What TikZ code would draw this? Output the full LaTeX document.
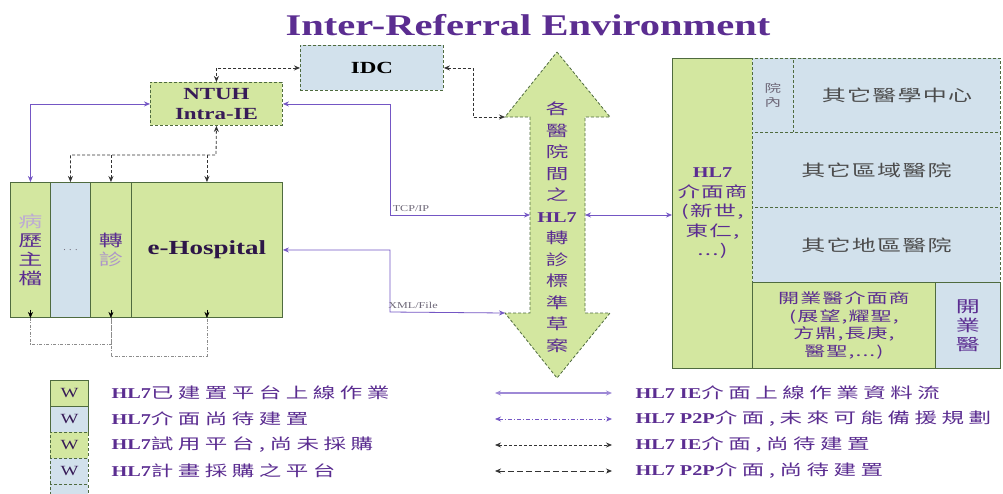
\documentclass[tikz,border=0pt]{standalone}
\usepackage{fontspec}
\setmainfont{Liberation Serif}
\newfontfamily\latinwide[FakeStretch=1.35]{Liberation Serif}
\newfontfamily\cjk[FakeStretch=1.5,LetterSpace=8]{Noto Sans CJK TC}
\newfontfamily\cjkleg[FakeStretch=1.5,LetterSpace=30]{Noto Sans CJK TC}
\usetikzlibrary{arrows.meta,positioning}

\definecolor{hlgreen}{HTML}{D3E7A0}
\definecolor{hlblue}{HTML}{D2E1EC}
\definecolor{boxline}{HTML}{4F6B3F}
\definecolor{hlpurple}{HTML}{5B2D91}
\definecolor{linkpurple}{HTML}{7456C4}
\definecolor{labelgray}{HTML}{6E6878}

\begin{document}
\begin{tikzpicture}[x=1pt,y=-1pt,
    cell/.style={draw=boxline, line width=0.9pt, inner sep=0pt, anchor=north west, align=center},
    greencell/.style={cell, fill=hlgreen},
    bluecell/.style={cell, fill=hlblue},
    dashcell/.style={dashed, dash pattern=on 3pt off 2pt},
    purplelink/.style={draw=linkpurple, line width=0.8pt, {Stealth[length=6pt,width=5pt]}-{Stealth[length=6pt,width=5pt]}},
    blacklink/.style={draw=black!80, line width=0.8pt, dash pattern=on 3pt off 2pt, {Stealth[length=6pt,width=5pt]}-{Stealth[length=6pt,width=5pt]}},
    graylink/.style={draw=black!45, line width=0.7pt, dash pattern=on 3pt off 1.5pt on 1pt off 1.5pt},
    downtip/.style={-{Stealth[length=6pt,width=5pt]}},
    cjktext/.style={font=\cjk\fontsize{16}{19}\selectfont},
    legbox/.style={minimum width=38pt, minimum height=26pt, anchor=west, text=hlpurple!60!black, font=\latinwide\fontsize{14}{14}\selectfont},
    legtext/.style={font=\cjkleg\fontsize{15}{15}\selectfont, text=hlpurple, anchor=west}]

  \clip (0,0) rectangle (1003,493);
  \fill[white] (0,0) rectangle (1003,493);

  % Title
  \node[text=hlpurple, font=\latinwide\bfseries\fontsize{30}{30}\selectfont] (title) at (528,25) {Inter-Referral Environment};

  % IDC and NTUH
  \node[bluecell, dashcell, minimum width=143pt, minimum height=45pt, font=\latinwide\bfseries\fontsize{17}{17}\selectfont] (idc) at (300,45) {IDC};
  \node[greencell, dashcell, minimum width=132pt, minimum height=43pt, text=hlpurple!60!black, font=\latinwide\bfseries\fontsize{17}{20}\selectfont] (ntuh) at (150,82) {NTUH\\Intra-IE};

  % Hospital side
  \node[greencell, minimum width=40pt, minimum height=135pt, cjktext, text=hlpurple] (col1) at (10,182) {\textcolor{hlpurple!40}{病}\\歷\\主\\檔};
  \node[bluecell, minimum width=40pt, minimum height=135pt, text=labelgray] (col2) at (50,182) {. . .};
  \node[greencell, minimum width=41pt, minimum height=135pt, cjktext, text=hlpurple] (col3) at (90,182) {轉\\\textcolor{hlpurple!50}{診}};
  \node[greencell, minimum width=151pt, minimum height=135pt, text=hlpurple!50!black, font=\latinwide\bfseries\fontsize{20}{20}\selectfont] (ehosp) at (131,182) {e-Hospital};

  % Referral standard (double arrow)
  \filldraw[fill=hlgreen, draw=boxline, line width=0.8pt, dash pattern=on 3pt off 2pt]
    (557,52) -- (610,117) -- (585,117) -- (585,313) -- (610,313) -- (557,378)
    -- (505,313) -- (530,313) -- (530,117) -- (505,117) -- cycle;
  \node[text=hlpurple, align=center, font=\cjk\fontsize{15}{21.5}\selectfont] (stdtext) at (557,227)
    {各\\醫\\院\\間\\之\\{\latinwide\bfseries HL7}\\轉\\診\\標\\準\\草\\案};
  \coordinate (headTL) at (505,117);
  \coordinate (headBL) at (505,313);
  \coordinate (shaftL) at (530,215);
  \coordinate (shaftR) at (585,215);

  % Other hospitals
  \node[greencell, minimum width=80pt, minimum height=310pt, font=\cjk\fontsize{15}{19.5}\selectfont, text=hlpurple] (vendor) at (672,58)
    {{\latinwide\bfseries HL7}\\介面商\\(新世,\\東仁,\\...)};
  \node[bluecell, dashcell, minimum width=41pt, minimum height=74pt, font=\cjk\fontsize{11}{14}\selectfont, text=labelgray] (inner) at (752,58) {院\\內};
  \node[bluecell, dashcell, minimum width=207pt, minimum height=74pt, cjktext, text=black!70] (medctr) at (793,58) {其它醫學中心};
  \node[bluecell, dashcell, minimum width=248pt, minimum height=75pt, cjktext, text=black!70] (region) at (752,132) {其它區域醫院};
  \node[bluecell, dashcell, minimum width=248pt, minimum height=75pt, cjktext, text=black!70] (local) at (752,207) {其它地區醫院};
  \node[greencell, minimum width=183pt, minimum height=86pt, font=\cjk\fontsize{14}{17.5}\selectfont, text=hlpurple] (clinicv) at (752,282)
    {開業醫介面商\\(展望,耀聖,\\方鼎,長庚,\\醫聖,...)};
  \node[bluecell, minimum width=65pt, minimum height=86pt, cjktext, text=hlpurple] (clinic) at (935,282) {開\\業\\醫};

  % Bends
  \coordinate (tcpbend) at (390,215);
  \coordinate (xmlbend) at (390,312);
  \coordinate (idcbend) at (473,117);
  \coordinate (busR) at (216,155);

  % Links
  \draw[purplelink] (ntuh.west) -| (col1.north);
  \draw[purplelink] (ntuh.east) -| (tcpbend) -- node[above, pos=0.15, text=labelgray, font=\latinwide\fontsize{9}{9}\selectfont] {TCP/IP} (shaftL);
  \draw[purplelink] (ehosp.east) -| (xmlbend) -- node[above, pos=0.2, text=labelgray, font=\latinwide\fontsize{9}{9}\selectfont] {XML/File} (headBL);
  \draw[purplelink] (shaftR) -- (shaftR -| vendor.west);
  \draw[blacklink] (idc.west) -| (ntuh.north);
  \draw[blacklink] (idc.east) -| (idcbend) -- (headTL);

  % Intra links
  \draw[blacklink] (col2.north) |- (busR) -- (ntuh.south);
  \draw[blacklink, -{Stealth[length=6pt,width=5pt]}] (col3.north |- busR) -- (col3.north);
  \draw[blacklink, -{Stealth[length=6pt,width=5pt]}] (ehosp.north |- busR) -- (ehosp.north);
  \draw[graylink] (col1.south) -- ++(0,26) -| (col3.south);
  \draw[graylink] (col3.south) -- ++(0,38) -| (ehosp.south);
  \draw[downtip, black] ([yshift=8pt]col1.south) -- (col1.south);
  \draw[downtip, black] ([yshift=8pt]col3.south) -- (col3.south);
  \draw[downtip, black] ([yshift=8pt]ehosp.south) -- (ehosp.south);

  % Legend, boxes
  \node[greencell, legbox] (legA) at (50,393) {W};
  \node[bluecell, legbox] (legB) at (50,419) {W};
  \node[greencell, dashcell, legbox] (legC) at (50,445) {W};
  \node[bluecell, dashcell, legbox] (legD) at (50,471) {W};
  \node[bluecell, dashcell, legbox] (legE) at (50,497) {};
  \node[legtext] (legAt) at (108,393) {{\latinwide\bfseries HL7}已建置平台上線作業};
  \node[legtext] (legBt) at (108,419) {{\latinwide\bfseries HL7}介面尚待建置};
  \node[legtext] (legCt) at (108,445) {{\latinwide\bfseries HL7}試用平台,尚未採購};
  \node[legtext] (legDt) at (108,471) {{\latinwide\bfseries HL7}計畫採購之平台};

  % Legend, links
  \coordinate (lkA1) at (495,393); \coordinate (lkA2) at (612,393);
  \coordinate (lkB1) at (495,419); \coordinate (lkB2) at (612,419);
  \coordinate (lkC1) at (495,445); \coordinate (lkC2) at (612,445);
  \coordinate (lkD1) at (495,471); \coordinate (lkD2) at (612,471);
  \draw[purplelink, draw=linkpurple!70, line width=1.2pt] (lkA1) -- (lkA2);
  \draw[purplelink, dash pattern=on 4pt off 2pt on 1pt off 2pt] (lkB1) -- (lkB2);
  \draw[blacklink] (lkC1) -- (lkC2);
  \draw[blacklink, dash pattern=on 6pt off 3pt] (lkD1) -- (lkD2);
  \node[legtext, right=20pt of lkA2] (lkAt) {{\latinwide\bfseries HL7 IE}介面上線作業資料流};
  \node[legtext, right=20pt of lkB2] (lkBt) {{\latinwide\bfseries HL7 P2P}介面,未來可能備援規劃};
  \node[legtext, right=20pt of lkC2] (lkCt) {{\latinwide\bfseries HL7 IE}介面,尚待建置};
  \node[legtext, right=20pt of lkD2] (lkDt) {{\latinwide\bfseries HL7 P2P}介面,尚待建置};
\end{tikzpicture}
\end{document}
